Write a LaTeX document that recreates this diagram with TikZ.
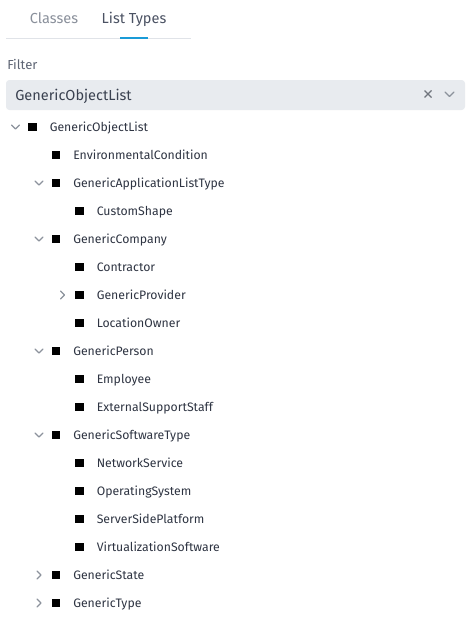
\documentclass[tikz,border=0pt]{standalone}
\usepackage{fontspec}
\setmainfont{Fira Sans}
\definecolor{tabgray}{HTML}{8A909B}
\definecolor{tabdark}{HTML}{4B5263}
\definecolor{tabblue}{HTML}{1A9BD7}
\definecolor{linegray}{HTML}{E0E3E8}
\definecolor{labelgray}{HTML}{5F6675}
\definecolor{boxfill}{HTML}{E8EBEF}
\definecolor{boxtext}{HTML}{3A4150}
\definecolor{treetext}{HTML}{2E3442}
\definecolor{chev}{HTML}{8C929C}
\begin{document}
\begin{tikzpicture}[x=0.75pt,y=-0.75pt,
  tab/.style={anchor=base,inner sep=0pt,font=\fontsize{10.9}{13}\selectfont},
  item/.style={anchor=base west,inner sep=0pt,text=treetext,font=\fontsize{9.2}{11}\selectfont},
  sq/.style={fill=black,draw=none,minimum size=6.3pt,inner sep=0pt},
  chevd/.style={draw=chev,line width=0.9pt,line cap=round,line join=round},
]
\useasboundingbox[fill=white] (0,0) rectangle (469,628);
% tabs
\node[tab,text=tabgray] (tclasses) at (54,23) {Classes};
\node[tab,text=tabdark] (tlist) at (134,23) {List Types};
\draw[linegray,line width=0.75pt] (6,38.5) -- (191,38.5);
\draw[tabblue,line width=1.6pt] (120,38) -- (148,38);
% filter
\node[anchor=base west,inner sep=0pt,text=labelgray,font=\fontsize{9.8}{12}\selectfont] (flabel) at (7,69.5) {Filter};
\fill[boxfill,rounded corners=2.5pt] (6,80) rectangle (465,110);
\node[anchor=base west,inner sep=0pt,text=boxtext,font=\fontsize{10.9}{13}\selectfont] (ftext) at (15,100.5) {GenericObjectList};
\draw[chev!80!black,line width=1pt] (424.5,90.5) -- (431.5,97.5) (431.5,90.5) -- (424.5,97.5);
\draw[chevd] (445,92) -- (449.5,96.5) -- (454,92);
% tree
\foreach \y/\lvl/\ch/\txt in {
  127/0/d/GenericObjectList,
  155/1/n/EnvironmentalCondition,
  183/1/d/GenericApplicationListType,
  211/2/n/CustomShape,
  239/1/d/GenericCompany,
  267/2/n/Contractor,
  295/2/r/GenericProvider,
  323/2/n/LocationOwner,
  351/1/d/GenericPerson,
  379/2/n/Employee,
  407/2/n/ExternalSupportStaff,
  435/1/d/GenericSoftwareType,
  463/2/n/NetworkService,
  491/2/n/OperatingSystem,
  519/2/n/ServerSidePlatform,
  547/2/n/VirtualizationSoftware,
  575/1/r/GenericState,
  603/1/r/GenericType}{
  \pgfmathsetmacro{\sx}{32.5+23.5*\lvl}
  \pgfmathsetmacro{\tx}{49.5+23.5*\lvl}
  \pgfmathsetmacro{\cx}{15.5+23.5*\lvl}
  \node[sq] (sq\y) at (\sx,\y) {};
  \node[item] (it\y) at (\tx,\y+4.5) {\txt};
  \if d\ch
    \draw[chevd] (\cx-4,\y-2) -- (\cx,\y+2) -- (\cx+4,\y-2);
  \fi
  \if r\ch
    \draw[chevd] (\cx-2,\y-4) -- (\cx+2,\y) -- (\cx-2,\y+4);
  \fi
}
\end{tikzpicture}
\end{document}
